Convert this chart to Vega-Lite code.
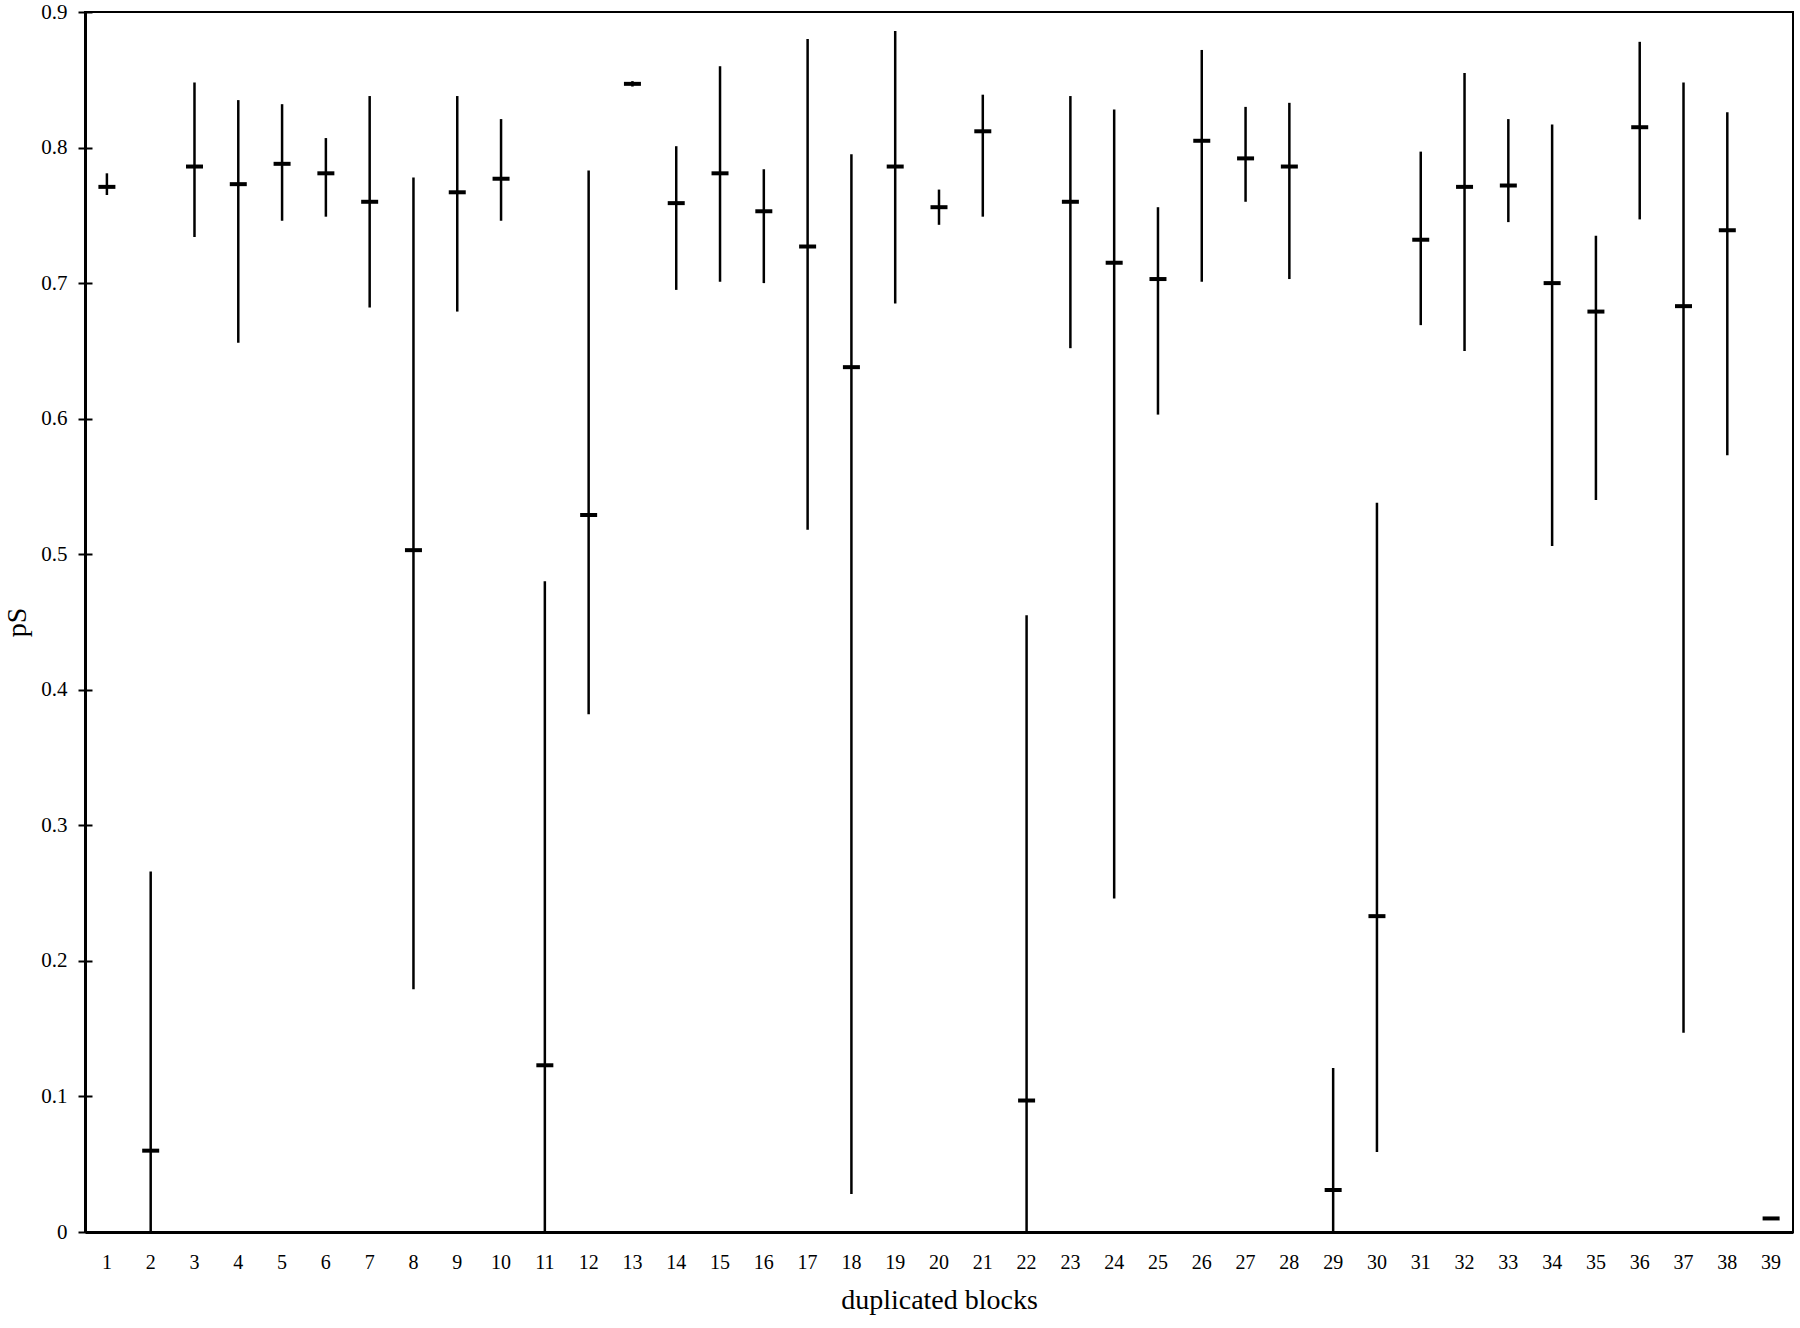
{
  "$schema": "https://vega.github.io/schema/vega-lite/v6.json",
  "autosize": "none",
  "width": 1708,
  "height": 1220,
  "padding": {"left": 85, "top": 12, "right": 7, "bottom": 96},
  "background": "white",
  "config": {
    "view": {"stroke": "black", "strokeWidth": 2},
    "font": "Liberation Serif"
  },
  "data": {
    "values": [
      {"block": 1, "mean": 0.771, "lo": 0.765, "hi": 0.781},
      {"block": 2, "mean": 0.060, "lo": 0.0, "hi": 0.266},
      {"block": 3, "mean": 0.786, "lo": 0.734, "hi": 0.848},
      {"block": 4, "mean": 0.773, "lo": 0.656, "hi": 0.835},
      {"block": 5, "mean": 0.788, "lo": 0.746, "hi": 0.832},
      {"block": 6, "mean": 0.781, "lo": 0.749, "hi": 0.807},
      {"block": 7, "mean": 0.760, "lo": 0.682, "hi": 0.838},
      {"block": 8, "mean": 0.503, "lo": 0.179, "hi": 0.778},
      {"block": 9, "mean": 0.767, "lo": 0.679, "hi": 0.838},
      {"block": 10, "mean": 0.777, "lo": 0.746, "hi": 0.821},
      {"block": 11, "mean": 0.123, "lo": 0.0, "hi": 0.480},
      {"block": 12, "mean": 0.529, "lo": 0.382, "hi": 0.783},
      {"block": 13, "mean": 0.847, "lo": 0.845, "hi": 0.849},
      {"block": 14, "mean": 0.759, "lo": 0.695, "hi": 0.801},
      {"block": 15, "mean": 0.781, "lo": 0.701, "hi": 0.860},
      {"block": 16, "mean": 0.753, "lo": 0.700, "hi": 0.784},
      {"block": 17, "mean": 0.727, "lo": 0.518, "hi": 0.880},
      {"block": 18, "mean": 0.638, "lo": 0.028, "hi": 0.795},
      {"block": 19, "mean": 0.786, "lo": 0.685, "hi": 0.886},
      {"block": 20, "mean": 0.756, "lo": 0.743, "hi": 0.769},
      {"block": 21, "mean": 0.812, "lo": 0.749, "hi": 0.839},
      {"block": 22, "mean": 0.097, "lo": 0.0, "hi": 0.455},
      {"block": 23, "mean": 0.760, "lo": 0.652, "hi": 0.838},
      {"block": 24, "mean": 0.715, "lo": 0.246, "hi": 0.828},
      {"block": 25, "mean": 0.703, "lo": 0.603, "hi": 0.756},
      {"block": 26, "mean": 0.805, "lo": 0.701, "hi": 0.872},
      {"block": 27, "mean": 0.792, "lo": 0.760, "hi": 0.830},
      {"block": 28, "mean": 0.786, "lo": 0.703, "hi": 0.833},
      {"block": 29, "mean": 0.031, "lo": 0.0, "hi": 0.121},
      {"block": 30, "mean": 0.233, "lo": 0.059, "hi": 0.538},
      {"block": 31, "mean": 0.732, "lo": 0.669, "hi": 0.797},
      {"block": 32, "mean": 0.771, "lo": 0.650, "hi": 0.855},
      {"block": 33, "mean": 0.772, "lo": 0.745, "hi": 0.821},
      {"block": 34, "mean": 0.700, "lo": 0.506, "hi": 0.817},
      {"block": 35, "mean": 0.679, "lo": 0.540, "hi": 0.735},
      {"block": 36, "mean": 0.815, "lo": 0.747, "hi": 0.878},
      {"block": 37, "mean": 0.683, "lo": 0.147, "hi": 0.848},
      {"block": 38, "mean": 0.739, "lo": 0.573, "hi": 0.826},
      {"block": 39, "mean": 0.010, "lo": null, "hi": null}
    ]
  },
  "encoding": {
    "x": {
      "field": "block",
      "type": "ordinal",
      "scale": {"paddingInner": 0, "paddingOuter": 0},
      "axis": {
        "title": "duplicated blocks",
        "labelAngle": 0,
        "ticks": false,
        "domainColor": "black",
        "domainWidth": 3,
        "labelFont": "Liberation Serif",
        "labelFontSize": 20,
        "labelColor": "black",
        "labelPadding": 20,
        "titleFont": "Liberation Serif",
        "titleFontSize": 28,
        "titleFontWeight": "normal",
        "titleColor": "black",
        "titlePadding": 14
      }
    }
  },
  "layer": [
    {
      "mark": {"type": "rule", "color": "black", "strokeWidth": 2.5},
      "encoding": {
        "y": {
          "field": "lo",
          "type": "quantitative",
          "scale": {"domain": [0, 0.9], "nice": false},
          "axis": {
            "title": "pS",
            "values": [0, 0.1, 0.2, 0.3, 0.4, 0.5, 0.6, 0.7, 0.8, 0.9],
            "format": ".1~f",
            "grid": false,
            "tickSize": 7,
            "tickWidth": 2,
            "tickColor": "black",
            "domainColor": "black",
            "domainWidth": 3,
            "labelFont": "Liberation Serif",
            "labelFontSize": 21,
            "labelColor": "black",
            "labelPadding": 11,
            "labelFlush": false,
            "titleFont": "Liberation Serif",
            "titleFontSize": 28,
            "titleFontWeight": "normal",
            "titleColor": "black",
            "titlePadding": 9
          }
        },
        "y2": {"field": "hi"}
      }
    },
    {
      "mark": {"type": "tick", "color": "black", "opacity": 1, "size": 17, "thickness": 4},
      "encoding": {
        "y": {
          "field": "mean",
          "type": "quantitative",
          "axis": {
            "orient": "left",
            "title": null,
            "labels": false,
            "domain": false,
            "grid": false,
            "values": [0, 0.1, 0.2, 0.3, 0.4, 0.5, 0.6, 0.7, 0.8, 0.9],
            "tickSize": -7,
            "tickWidth": 2,
            "tickColor": "black"
          }
        }
      }
    }
  ],
  "resolve": {"axis": {"y": "independent"}}
}
